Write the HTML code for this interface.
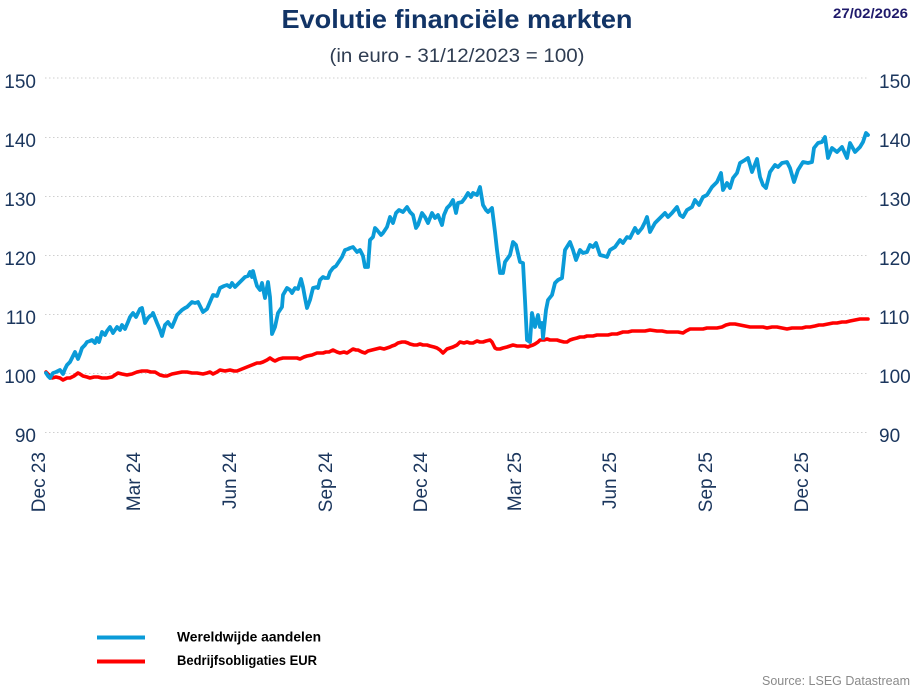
<!DOCTYPE html>
<html>
<head>
<meta charset="utf-8">
<style>
html,body{margin:0;padding:0;background:#fff;}
svg{display:block;}
</style>
</head>
<body>
<svg width="913" height="687" viewBox="0 0 913 687" xmlns="http://www.w3.org/2000/svg">
<rect x="0" y="0" width="913" height="687" fill="#ffffff"/>
<!-- Titles -->
<text x="457" y="28" text-anchor="middle" font-family="Liberation Sans, sans-serif" font-weight="bold" font-size="26" fill="#123466" textLength="351" lengthAdjust="spacingAndGlyphs">Evolutie financiële markten</text>
<text x="457" y="62" text-anchor="middle" font-family="Liberation Sans, sans-serif" font-size="19" fill="#2f3d52" textLength="255" lengthAdjust="spacingAndGlyphs">(in euro - 31/12/2023 = 100)</text>
<text x="908" y="18" text-anchor="end" font-family="Liberation Sans, sans-serif" font-weight="bold" font-size="14" fill="#1f1a6b" textLength="75" lengthAdjust="spacingAndGlyphs">27/02/2026</text>

<!-- Gridlines -->
<g stroke="#cfcfcf" stroke-width="1" stroke-dasharray="1.5,2.5">
<line x1="45" y1="78" x2="868" y2="78"/>
<line x1="45" y1="137.5" x2="868" y2="137.5"/>
<line x1="45" y1="196.5" x2="868" y2="196.5"/>
<line x1="45" y1="255.5" x2="868" y2="255.5"/>
<line x1="45" y1="314.5" x2="868" y2="314.5"/>
<line x1="45" y1="373.5" x2="868" y2="373.5"/>
<line x1="45" y1="432.5" x2="868" y2="432.5"/>
</g>

<!-- Y labels left -->
<g font-family="Liberation Sans, sans-serif" font-size="19" fill="#1b365d" text-anchor="end">
<text x="36" y="88">150</text>
<text x="36" y="147">140</text>
<text x="36" y="206">130</text>
<text x="36" y="265">120</text>
<text x="36" y="324">110</text>
<text x="36" y="383">100</text>
<text x="36" y="442">90</text>
</g>
<!-- Y labels right -->
<g font-family="Liberation Sans, sans-serif" font-size="19" fill="#1b365d" text-anchor="start">
<text x="879" y="88">150</text>
<text x="879" y="147">140</text>
<text x="879" y="206">130</text>
<text x="879" y="265">120</text>
<text x="879" y="324">110</text>
<text x="879" y="383">100</text>
<text x="879" y="442">90</text>
</g>

<!-- X labels -->
<g font-family="Liberation Sans, sans-serif" font-size="19" fill="#1b365d" text-anchor="end">
<text transform="translate(45,452) rotate(-90)">Dec 23</text>
<text transform="translate(140,452) rotate(-90)">Mar 24</text>
<text transform="translate(236,452) rotate(-90)">Jun 24</text>
<text transform="translate(332,452) rotate(-90)">Sep 24</text>
<text transform="translate(427,452) rotate(-90)">Dec 24</text>
<text transform="translate(521,452) rotate(-90)">Mar 25</text>
<text transform="translate(616,452) rotate(-90)">Jun 25</text>
<text transform="translate(712,452) rotate(-90)">Sep 25</text>
<text transform="translate(808,452) rotate(-90)">Dec 25</text>
</g>

<!-- Red series -->
<polyline fill="none" stroke="#ff0000" stroke-width="3.6" stroke-linejoin="round" stroke-linecap="round" points="
46,372 49,375 52,378 56,377 60,378 63,380 67,378 70,378 74,376 78,373 80,374 83,376 87,377 90,378 94,377 98,377 102,378 107,378 112,377 115,375 118,373 122,374 127,375 132,374 137,372 142,371 147,371 151,372 155,372 160,375 164,376 167,376 172,374 177,373 182,372 187,372 192,373 197,373 203,374 207,373 210,372 213,374 217,372 220,370 225,371 230,370 234,371 237,371 242,369 247,367 252,365 257,363 260,363 263,362 267,360 270,358 273,360 275,361 279,359 283,358 288,358 293,358 297,358 300,359 304,357 307,356 312,355 317,353 320,353 323,353 326,352 329,352 333,350 337,352 340,353 344,352 347,353 350,351 353,349 356,350 358,350 362,352 365,353 368,351 372,350 376,349 380,348 384,349 387,348 390,347 392,346 395,345 398,343 402,342 405,342 408,343 410,344 414,345 417,345 420,344 423,345 427,345 430,346 434,347 437,348 440,350 443,353 447,349 450,348 453,347 457,345 460,342 464,343 467,342 470,343 473,343 477,341 480,342 483,342 486,341 490,340 492,342 495,348 497,349 500,349 503,348 507,347 510,346 513,345 517,346 520,346 523,346 525,346 528,347 530,346 533,345 535,344 538,342 540,340 544,340 547,339 550,340 553,340 557,340 560,341 564,342 567,342 570,340 573,339 577,338 580,337 584,337 587,336 590,336 593,336 597,335 600,335 603,335 608,335 612,334 617,334 620,333 623,332 628,332 632,331 636,331 640,331 645,331 650,330 657,331 662,331 667,332 673,332 678,332 683,333 686,331 690,329 695,329 700,329 703,329 707,328 712,328 717,328 722,327 726,325 730,324 735,324 740,325 745,326 750,327 755,327 760,327 763,327 767,328 772,327 777,327 782,328 787,329 792,328 797,328 802,328 806,327 810,327 815,326 819,325 823,325 828,324 833,323 837,323 842,322 846,322 850,321 855,320 860,319 864,319 868,319"/>

<!-- Blue series -->
<polyline fill="none" stroke="#0a9bd8" stroke-width="3.8" stroke-linejoin="round" stroke-linecap="round" points="
46,373 48,376 50,378 53,373 56,372 60,370 63,374 65,369 67,365 70,362 72,358 75,352 78,359 80,354 82,348 85,345 87,342 90,341 92,340 95,343 97,338 99,342 102,332 105,335 107,331 110,327 113,333 115,330 117,327 120,330 122,325 125,329 128,322 130,317 133,313 136,317 138,313 140,309 142,308 145,323 148,318 150,316 152,315 153,313 155,318 157,323 160,330 162,336 165,325 168,322 170,325 172,327 175,320 177,315 180,312 182,310 185,308 187,307 190,304 192,302 195,303 198,302 200,306 203,312 207,309 210,302 213,295 217,296 220,288 224,286 227,285 230,287 232,283 235,287 238,284 240,282 243,279 245,277 248,276 250,272 252,277 253,271 255,279 257,286 260,290 262,283 265,298 268,282 270,297 272,334 275,327 278,313 282,307 283,295 287,288 290,290 292,293 295,288 298,289 301,279 303,287 305,298 307,308 310,300 313,288 317,287 318,288 320,280 323,277 325,278 328,278 330,272 333,268 336,266 338,263 342,257 345,250 348,249 350,248 353,247 357,252 360,250 363,256 365,267 368,267 370,240 373,237 375,228 377,230 381,235 383,233 387,227 390,217 393,223 396,213 399,210 403,212 407,207 410,212 413,215 416,228 418,225 422,213 425,217 428,223 432,213 435,218 438,215 442,225 444,215 447,208 450,205 453,200 456,213 458,203 462,202 465,198 468,193 471,197 473,193 477,195 480,187 483,205 486,210 488,212 492,208 495,232 497,250 500,273 503,273 505,262 510,255 513,242 516,245 520,262 523,263 525,300 526,320 527,340 530,342 532,313 535,327 538,315 540,327 542,323 543,338 546,310 548,300 552,295 555,283 558,280 562,278 565,250 570,242 573,250 576,260 580,250 583,253 587,252 590,245 593,247 596,243 600,255 604,256 607,257 610,250 615,247 620,240 623,243 627,237 630,238 635,228 638,233 642,228 645,222 647,217 650,232 655,223 660,218 665,213 668,217 672,213 677,207 680,215 683,217 687,210 692,207 695,200 699,205 703,197 707,195 712,187 717,182 721,173 723,190 727,183 730,188 733,178 737,173 740,163 745,160 748,158 752,172 757,159 760,177 763,185 766,188 770,172 775,165 778,167 782,163 787,162 790,168 794,182 798,170 803,162 808,163 812,162 814,148 818,143 822,142 825,137 828,158 832,148 837,152 842,147 847,158 850,143 855,152 860,147 863,142 866,133 868,135"/>

<!-- Legend -->
<line x1="97" y1="637.5" x2="145" y2="637.5" stroke="#0a9bd8" stroke-width="4"/>
<line x1="97" y1="661.5" x2="145" y2="661.5" stroke="#ff0000" stroke-width="4"/>
<text x="177" y="641.5" font-family="Liberation Sans, sans-serif" font-weight="bold" font-size="13.5" fill="#000" textLength="144" lengthAdjust="spacingAndGlyphs">Wereldwijde aandelen</text>
<text x="177" y="665" font-family="Liberation Sans, sans-serif" font-weight="bold" font-size="13.5" fill="#000" textLength="140" lengthAdjust="spacingAndGlyphs">Bedrijfsobligaties EUR</text>

<!-- Source -->
<text x="910" y="685" text-anchor="end" font-family="Liberation Sans, sans-serif" font-size="13" fill="#8a8a8a" textLength="148" lengthAdjust="spacingAndGlyphs">Source: LSEG Datastream</text>
</svg>
</body>
</html>
